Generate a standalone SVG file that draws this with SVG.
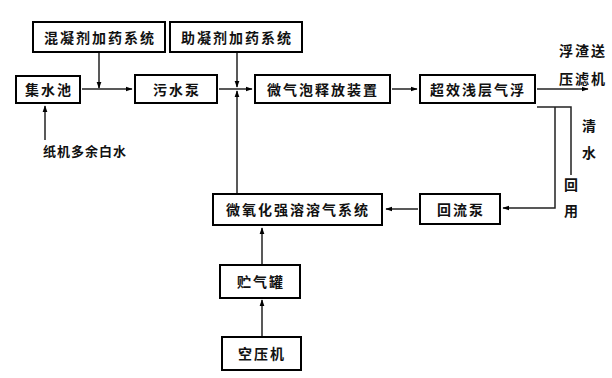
<svg xmlns="http://www.w3.org/2000/svg" width="612" height="378" viewBox="0 0 612 378">
<style>
.box{fill:#fff;stroke:#000;stroke-width:2}
.t{font-family:"Noto Sans CJK SC","Noto Sans",sans-serif;font-size:14px;font-weight:bold;fill:#111;text-anchor:middle;dominant-baseline:central;letter-spacing:2px}
.c{fill:none;stroke:#222;stroke-width:1.5}
</style>
<defs>
<marker id="a" viewBox="0 0 10 10" refX="9" refY="5" markerWidth="7" markerHeight="7" orient="auto" markerUnits="userSpaceOnUse">
<path d="M0,1.5 L10,5 L0,8.5 z" fill="#000"/>
</marker>
</defs>
<rect width="612" height="378" fill="#fff"/>
<g id="connectors">
<path class="c" d="M82,89 H132" marker-end="url(#a)"/>
<path class="c" d="M99,52 V88" marker-end="url(#a)"/>
<path class="c" d="M219,89 H252" marker-end="url(#a)"/>
<path class="c" d="M237,52 V87" marker-end="url(#a)"/>
<path class="c" d="M237,193 V91" marker-end="url(#a)"/>
<path class="c" d="M392,89 H417" marker-end="url(#a)"/>
<path class="c" d="M537,89 H588" marker-end="url(#a)"/>
<path class="c" d="M537,107 H571 V175"/>
<path class="c" d="M555,107 V208 H503" marker-end="url(#a)"/>
<path class="c" d="M418,209 H386" marker-end="url(#a)"/>
<path class="c" d="M262,264 V228" marker-end="url(#a)"/>
<path class="c" d="M262,336 V300" marker-end="url(#a)"/>
<path class="c" d="M45,140 V106" marker-end="url(#a)"/>
</g>
<g id="n1"><rect class="box" x="33" y="22" width="132" height="30"/><text class="t" x="100" y="37">混凝剂加药系统</text></g>
<g id="n2"><rect class="box" x="170" y="22" width="132" height="30"/><text class="t" x="237" y="37">助凝剂加药系统</text></g>
<g id="n3"><rect class="box" x="16" y="76" width="64" height="27"/><text class="t" x="49" y="89">集水池</text></g>
<g id="n4"><rect class="box" x="135" y="75" width="82" height="28"/><text class="t" x="177" y="89">污水泵</text></g>
<g id="n5"><rect class="box" x="255" y="75" width="135" height="28"/><text class="t" x="323" y="89">微气泡释放装置</text></g>
<g id="n6"><rect class="box" x="420" y="75" width="115" height="28"/><text class="t" x="478" y="89">超效浅层气浮</text></g>
<g id="n7"><rect class="box" x="420" y="194" width="80" height="30"/><text class="t" x="461" y="209">回流泵</text></g>
<g id="n8"><rect class="box" x="213" y="194" width="169" height="31"/><text class="t" x="298" y="209">微氧化强溶溶气系统</text></g>
<g id="n9"><rect class="box" x="220" y="265" width="80" height="33"/><text class="t" x="261" y="281">贮气罐</text></g>
<g id="n10"><rect class="box" x="222" y="337" width="79" height="33"/><text class="t" x="262" y="353">空压机</text></g>
<g id="labels">
<text class="t" x="85" y="150" style="font-size:13px;letter-spacing:1px">纸机多余白水</text>
<text class="t" x="583" y="50">浮渣送</text>
<text class="t" x="583" y="78">压滤机</text>
<text class="t" x="590" y="125">清</text>
<text class="t" x="590" y="152">水</text>
<text class="t" x="572" y="184">回</text>
<text class="t" x="572" y="210">用</text>
</g>
</svg>
